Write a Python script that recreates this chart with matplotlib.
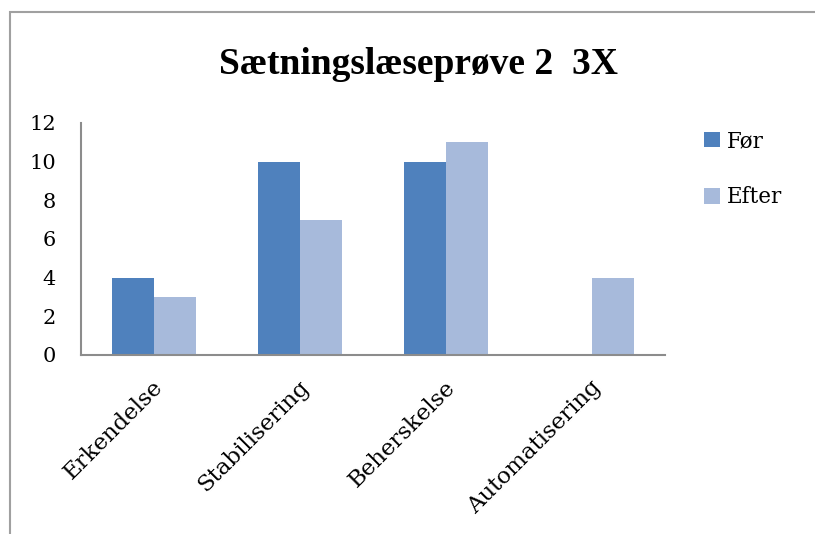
import matplotlib.pyplot as plt, numpy as np
from matplotlib.patches import Rectangle
from matplotlib.transforms import ScaledTranslation

plt.rcParams['font.family'] = ['DejaVu Serif']

categories = ["Erkendelse", "Stabilisering", "Beherskelse", "Automatisering"]
foer = [4, 10, 10, 0]
efter = [3, 7, 11, 4]
yticks = [0, 2, 4, 6, 8, 10, 12]

dark = "#4F81BD"
light = "#A7BADB"
axis_grey = "#8C8C8C"

fig = plt.figure(figsize=(8.15, 5.34), dpi=100)
ax = fig.add_axes([81/815, 1-355/534, 584/815, 232/534])

x = np.arange(len(categories))
w = 1/3.5
ax.bar(x - w/2, foer, w, color=dark, label="Før")
ax.bar(x + w/2, efter, w, color=light, label="Efter")

ax.set_xlim(-0.5, len(categories) - 0.5)
ax.set_ylim(0, 12)
ax.set_yticks(yticks)
ax.set_xticks(x)
ax.set_xticklabels(categories, rotation=45, ha='right', va='center', rotation_mode='anchor')
ax.tick_params(axis='y', length=0, pad=18, labelsize=15)
ax.tick_params(axis='x', length=0, pad=21, labelsize=16.5)
# nudge the slanted labels a little to the right
shift = ScaledTranslation(6/100, 0, fig.dpi_scale_trans)
for lbl in ax.get_xticklabels():
    lbl.set_transform(lbl.get_transform() + shift)
for s in ['top', 'right']:
    ax.spines[s].set_visible(False)
for s in ['left', 'bottom']:
    ax.spines[s].set_color(axis_grey)
    ax.spines[s].set_linewidth(1.5)

fig.text(418/815, 1-65/534, "Sætningslæseprøve 2  3X", ha='center', va='center',
         fontsize=27, fontweight='bold', family='Liberation Serif')

ax.legend(loc='upper left', bbox_to_anchor=(704/815, 1-130/534), bbox_transform=fig.transFigure,
          frameon=False, fontsize=15.5, handlelength=0.75, handleheight=0.75,
          handletextpad=0.3, labelspacing=1.6, borderpad=0, borderaxespad=0)

# outer chart frame
fig.add_artist(Rectangle((10/815, -0.1), 1.0, 1.1 - 12/534, transform=fig.transFigure,
                         fill=False, edgecolor="#A0A0A0", linewidth=1.5))

plt.savefig("out.png", dpi=100)
plt.close()
